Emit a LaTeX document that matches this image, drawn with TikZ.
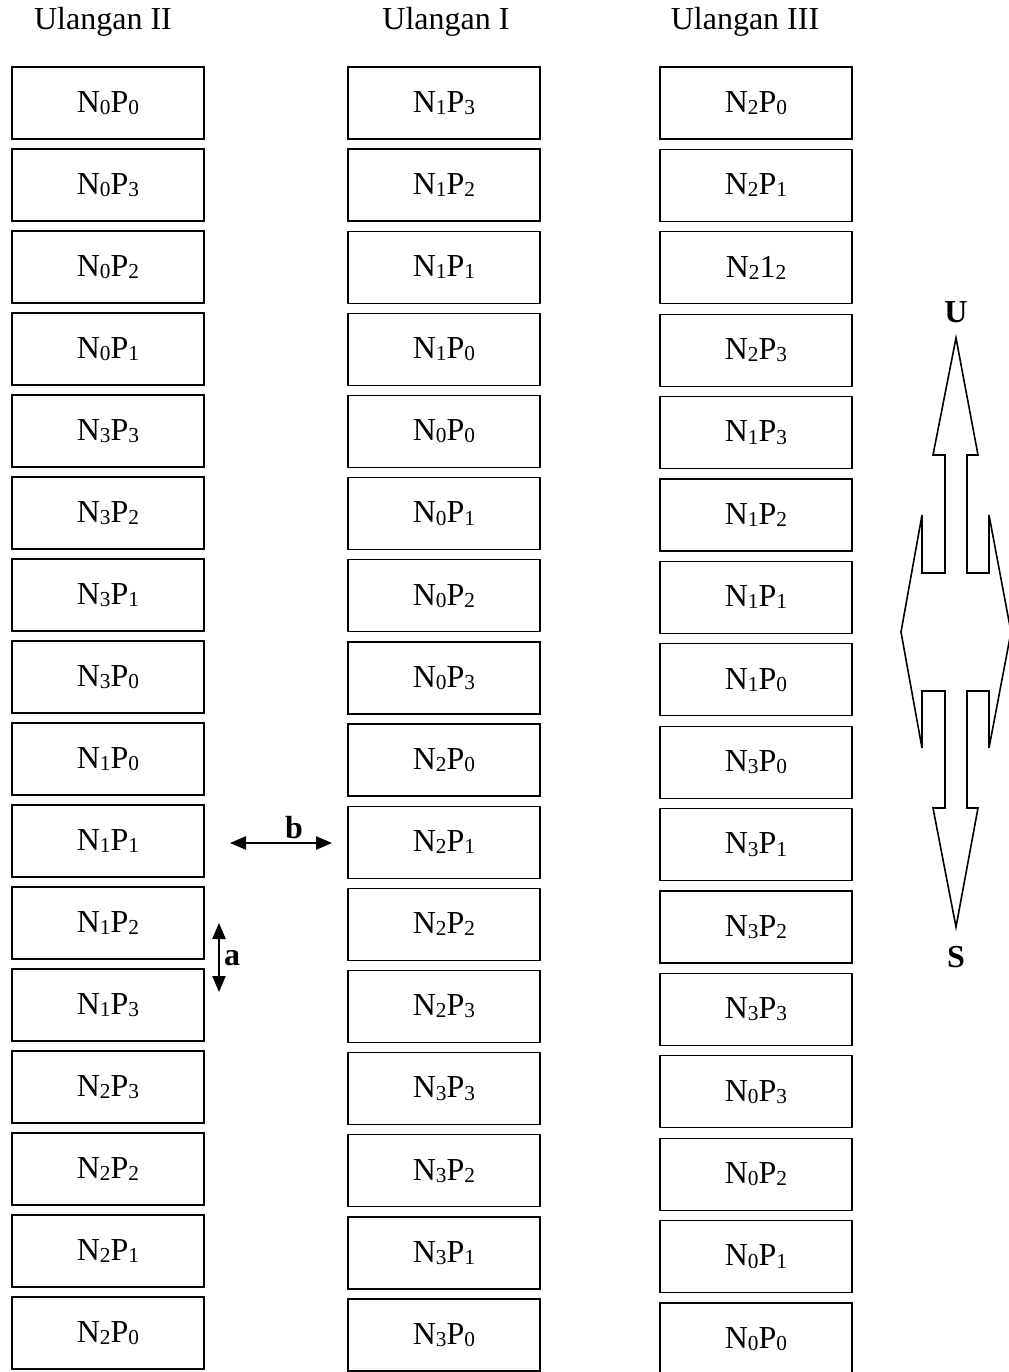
\documentclass[tikz,border=0pt]{standalone}
\usepackage{fontspec}
\setmainfont{Liberation Serif}
\usepackage{tikz}
\usetikzlibrary{arrows.meta}
\tikzset{plot/.style={draw, line width=0.5pt, minimum width=72pt, minimum height=27pt, inner sep=0pt},
  dimarrow/.style={{Triangle[length=6pt,width=5pt]}-{Triangle[length=6pt,width=5pt]}, line width=0.5pt}}
\newcommand{\sub}[1]{\raisebox{-0.8pt}{\fontsize{8}{8}\selectfont #1}}
\newcommand{\NP}[3]{N\sub{#1}#2\sub{#3}}

\begin{document}
\begin{tikzpicture}[x=0.375pt, y=-0.375pt, font=\fontsize{12}{14.4}\selectfont]
    \useasboundingbox (0,0) rectangle (1008,1372);
    \node[anchor=base] (head2) at (103, 29) {Ulangan II};
    \node[anchor=base] (head1) at (446, 29) {Ulangan I};
    \node[anchor=base] (head3) at (745, 29) {Ulangan III};
    % Ulangan II
    \foreach \n/\p [count=\i] in {0/0,0/3,0/2,0/1,3/3,3/2,3/1,3/0,1/0,1/1,1/2,1/3,2/3,2/2,2/1,2/0}
      \node[plot] (u2-\i) at (108, {103 + 82*(\i-1)}) {\NP{\n}{P}{\p}};
    % Ulangan I
    \foreach \n/\p [count=\i] in {1/3,1/2,1/1,1/0,0/0,0/1,0/2,0/3,2/0,2/1,2/2,2/3,3/3,3/2,3/1,3/0}
      \node[plot] (u1-\i) at (444, {103 + 82.13*(\i-1)}) {\NP{\n}{P}{\p}};
    % Ulangan III
    \foreach \n/\m/\p [count=\i] in {2/P/0,2/P/1,2/1/2,2/P/3,1/P/3,1/P/2,1/P/1,1/P/0,3/P/0,3/P/1,3/P/2,3/P/3,0/P/3,0/P/2,0/P/1,0/P/0}
      \node[plot] (u3-\i) at (756, {103 + 82.4*(\i-1)}) {\NP{\n}{\m}{\p}};
    % jarak
    \coordinate (b1) at (230, 843);
    \coordinate (b2) at (332, 843);
    \draw[dimarrow] (b1) -- (b2);
    \node (b) at (294, 828) {\textbf{b}};
    \coordinate (a1) at (219, 923);
    \coordinate (a2) at (219, 992);
    \draw[dimarrow] (a1) -- (a2);
    \node (a) at (232, 958) {\textbf{a}};
    % arah mata angin
    \node (U) at (956, 312) {\textbf{U}};
    \node (S) at (956, 957) {\textbf{S}};
    \draw[line width=0.6pt] (956,338) -- (978,455) -- (967,455) -- (967,573) -- (989,573) -- (989,515)
      -- (1011,632) -- (989,748) -- (989,691) -- (967,691) -- (967,808) -- (978,808) -- (956,927)
      -- (933,808) -- (945,808) -- (945,691) -- (922,691) -- (922,748) -- (901,632) -- (922,515)
      -- (922,573) -- (945,573) -- (945,455) -- (933,455) -- cycle;
\end{tikzpicture}
\end{document}
